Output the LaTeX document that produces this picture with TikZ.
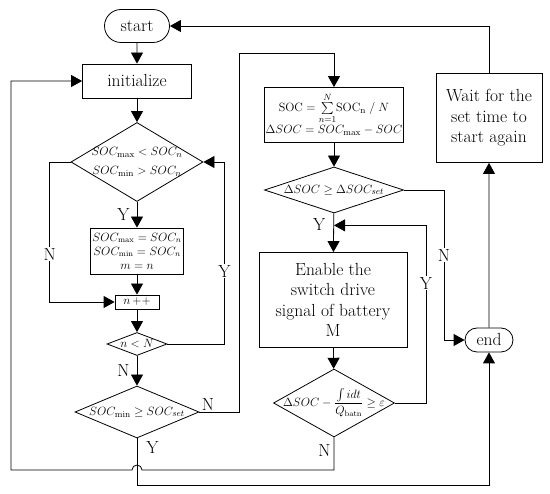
\documentclass[tikz,border=0pt]{standalone}
\usepackage{amsmath}
\usetikzlibrary{positioning}
\usetikzlibrary{shapes.geometric}
\usetikzlibrary{shapes.misc}
\usetikzlibrary{arrows.meta}
\tikzset{
	every node/.style = {font=\fontsize{17.5}{20.5}\selectfont},
	process/.style = {draw, rectangle, inner sep=0pt, align=center},
	decision/.style = {draw, diamond, inner sep=0pt},
	terminal/.style = {draw, rounded rectangle, inner sep=0pt},
	mathtxt/.style = {inner sep=0pt, align=center, font=\fontsize{12.5}{19}\selectfont},
	yn/.style = {fill=white, inner sep=1pt},
	flow/.style = {-{Triangle[length=11pt,width=12pt]}}
}

\begin{document}
\begin{tikzpicture}[x=1pt, y=1pt, line width=0.8pt]
		\useasboundingbox (0,0) rectangle (550,-494);

		% left column
		\node[terminal, minimum width=65pt, minimum height=33pt] (start) at (137,-26) {start};
		\node[process, minimum width=109pt, minimum height=34pt] (init) at (137,-81) {initialize};
		\node[decision, minimum width=132pt, minimum height=79pt] (chkRange) at (137,-162) {};
		\node[mathtxt] (chkRangeTxt) at (chkRange) {$SOC_{\mathrm{max}}<SOC_n$\\$SOC_{\mathrm{min}}>SOC_n$};
		\node[process, minimum width=93pt, minimum height=46pt, font=\fontsize{11.5}{14}\selectfont] (update) at (137,-251)
			{$SOC_{\mathrm{max}}=SOC_n$\\$SOC_{\mathrm{min}}=SOC_n$\\$m=n$};
		\node[process, minimum width=44pt, minimum height=14pt, font=\fontsize{12}{14}\selectfont] (incr) at (137,-302) {$n\,{+}{+}$};
		\node[decision, minimum width=60pt, minimum height=23pt] (chkN) at (137,-344) {};
		\node[mathtxt, font=\fontsize{12}{14}\selectfont] (chkNTxt) at (chkN) {$n<N$};
		\node[decision, minimum width=124pt, minimum height=52pt] (chkMin) at (137,-412) {};
		\node[mathtxt] (chkMinTxt) at (chkMin) {$SOC_{\mathrm{min}}\geq SOC_{set}$};

		% middle column
		\node[process, minimum width=139pt, minimum height=55pt, font=\fontsize{12.5}{22}\selectfont] (avg) at (334,-115)
			{\rule{0pt}{17pt}$\mathrm{SOC}=\smash{\sum\limits_{n=1}^{N}}\mathrm{SOC}_{\mathrm{n}}\;/\;N$\\$\Delta SOC=SOC_{\mathrm{max}}-SOC$};
		\node[decision, minimum width=139pt, minimum height=46pt] (chkDelta) at (334,-190) {};
		\node[mathtxt] (chkDeltaTxt) at (chkDelta) {$\Delta SOC\geq\Delta SOC_{set}$};
		\node[process, minimum width=148pt, minimum height=95pt] (enable) at (333,-300)
			{Enable the\\switch drive\\signal of battery\\M};
		\node[decision, minimum width=121pt, minimum height=68pt] (chkInt) at (334,-403) {};
		\node[mathtxt, font=\fontsize{11.5}{14}\selectfont] (chkIntTxt) at (chkInt)
			{$\Delta SOC-\dfrac{\int idt}{Q_{\mathrm{batn}}}\geq\varepsilon$};
		\coordinate (merge) at ([yshift=-12pt]chkDelta.south);

		% right column
		\node[process, minimum width=106pt, minimum height=89pt] (wait) at (489,-118)
			{Wait for the\\set time to\\start again};
		\node[terminal, minimum width=48pt, minimum height=24pt] (stop) at (489,-340) {end};

		% connectors
		\draw[flow] (start) -- (init);
		\draw[flow] (init) -- (chkRange);
		\draw[flow] (chkRange) -- node[left=6pt, inner sep=1pt] {Y} (update);
		\draw[flow] (update) -- (incr);
		\draw[flow] (chkRange.west) -- ++(-21,0) |- node[pos=0.33, yn] {N} (incr.west);
		\draw[flow] (incr) -- (chkN);
		\draw[flow] (chkN.east) -- ++(57,0) |- node[pos=0.2, yn] {Y} (chkRange.east);
		\draw[flow] (chkN) -- node[left=6pt, inner sep=1pt] {N} (chkMin);
		\draw[flow] (chkMin.east) node[anchor=south west, inner sep=1pt, xshift=1pt] {N}
			-- ++(40,0) |- ([yshift=34pt]avg.north) -- (avg.north);
		\draw[flow] (chkMin.south) -- node[pos=0.2, right=8pt, inner sep=1pt] {Y} ++(0,-47) -| (stop.south);
		\draw[flow] (avg) -- (chkDelta);
		\draw[flow] (chkDelta) -- node[pos=0.3, left=7pt, inner sep=1pt] {Y} (enable);
		\draw[flow] (chkDelta.east) -- ++(40,0) |- node[pos=0.217, yn] {N} (stop.west);
		\draw[flow] (enable) -- (chkInt);
		\draw[flow] (chkInt.east) -- ++(31,0) |- node[pos=0.337, yn] {Y} (merge);
		\draw[flow] (chkInt.south) |- node[pos=0.2, left=2pt, inner sep=1pt] {N} (142,-470)
			arc[start angle=0, end angle=180, radius=5pt] -- ++(-121,0) |- (init.west);
		\draw[flow] (stop) -- (wait);
		\draw[flow] (wait.north) |- (start.east);
\end{tikzpicture}
\end{document}
